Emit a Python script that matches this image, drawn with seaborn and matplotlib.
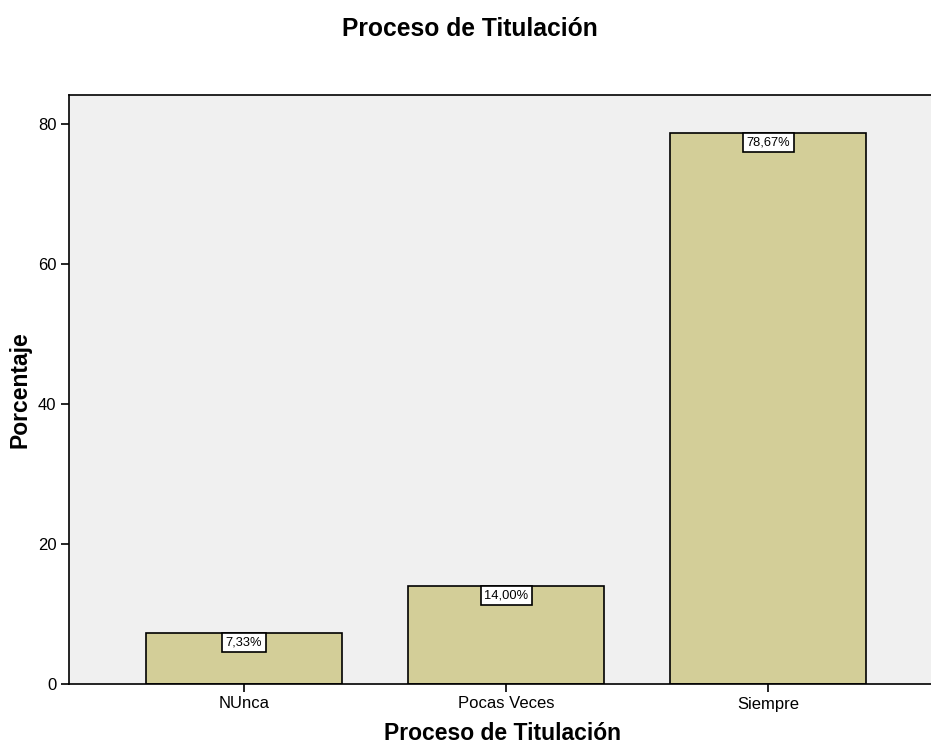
import matplotlib
matplotlib.use("Agg")
import matplotlib.pyplot as plt
import seaborn as sns
import pandas as pd

categories = ["NUnca", "Pocas Veces", "Siempre"]
values = [7.33, 14.00, 78.67]
labels = ["7,33%", "14,00%", "78,67%"]
yticks = [0, 20, 40, 60, 80]

sns.set_theme(style="white")
plt.rcParams['font.family'] = ['Liberation Sans', 'DejaVu Sans']

df = pd.DataFrame({"cat": categories, "val": values})

fig = plt.figure(figsize=(9.31, 7.51), dpi=100)
ax = fig.add_axes([69/931, 1 - 684/751, 1 - 69/931 + 0.01, (684 - 95)/751])
ax.set_facecolor("#F0F0F0")

sns.barplot(data=df, x="cat", y="val", ax=ax, color="#D3CE98", width=0.748,
            edgecolor="black", linewidth=1.2, saturation=1)

ax.set_xlim(-0.668, 2.626 + 0.03)
ax.set_ylim(0, 84.1)
ax.set_yticks(yticks)
ax.set_yticklabels([str(t) for t in yticks], fontsize=12, color="black")
ax.set_xticks(range(len(categories)))
ax.set_xticklabels(categories, fontsize=12, color="black")
ax.tick_params(axis="both", which="both", direction="out", length=6, width=1.2,
               color="black", left=True, bottom=True, pad=3)
for s in ["left", "bottom", "top"]:
    ax.spines[s].set_visible(True)
    ax.spines[s].set_color("black")
    ax.spines[s].set_linewidth(1.2)
ax.spines["right"].set_visible(False)

for i, (v, lab) in enumerate(zip(values, labels)):
    ax.annotate(lab, xy=(i, v), xytext=(0, -2.6), textcoords="offset points",
                ha="center", va="top", fontsize=9.3, color="black",
                bbox=dict(boxstyle="square,pad=0.27", fc="white", ec="black", lw=1.2))

ax.set_xlabel("")
ax.set_ylabel("")
fig.text(503/931, 1 - 733/751, "Proceso de Titulación", ha="center", va="center",
         fontsize=16.5, fontweight="bold", color="black")
fig.text(20/931, 1 - 390/751, "Porcentaje", ha="center", va="center", rotation=90,
         fontsize=16.5, fontweight="bold", color="black")
fig.text(470/931, 1 - 29/751, "Proceso de Titulación", ha="center", va="center",
         fontsize=17.7, fontweight="bold", color="black")

fig.savefig("out.png", dpi=100)
